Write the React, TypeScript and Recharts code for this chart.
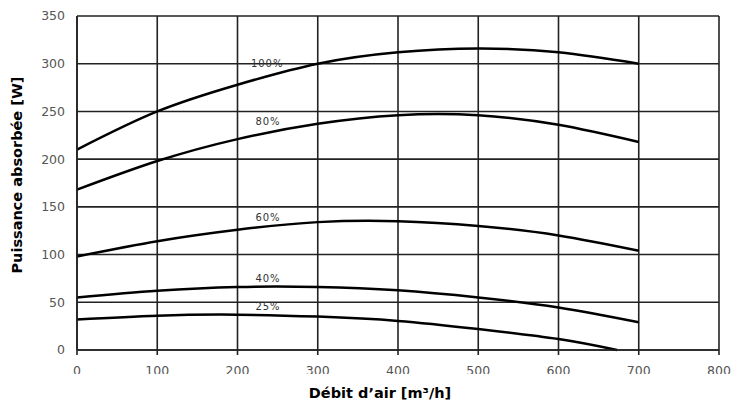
import React from 'react';
import { LineChart, Line, XAxis, YAxis, CartesianGrid, ReferenceDot, Label } from 'recharts';

// air flow points (m³/h)
const flow = [0, 100, 200, 300, 400, 500, 600, 700];
const flow25 = [0, 100, 200, 300, 400, 500, 600, 673];

const p100 = [210, 250, 278, 300, 312, 316, 312, 300];
const p80 = [168, 198, 221, 237, 246, 246, 236, 218];
const p60 = [98, 114, 126, 134, 135, 130, 120, 104];
const p40 = [55, 62, 66, 66, 62.5, 55, 44.5, 29];
const p25 = [32, 36, 37, 35, 30.5, 22, 11.5, 0];

const curveNames = ['100%', '80%', '60%', '40%', '25%'];
const labelX = [237, 238, 238, 238, 238];
const labelY = [300, 239, 139, 75, 46];

const xTicks = [0, 100, 200, 300, 400, 500, 600, 700, 800];
const yTicks = [0, 50, 100, 150, 200, 250, 300, 350];

const toSeries = (xs: number[], ys: number[]) => xs.map((x, i) => ({ x, y: ys[i] }));

const series = [
  toSeries(flow, p100),
  toSeries(flow, p80),
  toSeries(flow, p60),
  toSeries(flow, p40),
  toSeries(flow25, p25),
];

const font = 'DejaVu Sans, Verdana, sans-serif';
const tickStyle = { fontFamily: font, fontSize: 12.5, fill: '#555' };
const titleStyle = { fontFamily: font, fontSize: 14.5, fontWeight: 'bold', fill: '#000' };

// x tick labels are cut off at the bottom in the original: nested svg clips them
const renderXTick = (props: any) => {
  const { x, y, payload } = props;
  return (
    <svg key={`xt-${payload.value}`} x={x - 30} y={y} width={60} height={15} overflow="hidden">
      <text x={30} y={7} dy="0.71em" textAnchor="middle" {...tickStyle}>
        {payload.value}
      </text>
    </svg>
  );
};

const YTitle = (props: any) => {
  const { viewBox } = props;
  const x = viewBox.x + 22;
  const y = viewBox.y + viewBox.height / 2 - 8;
  return (
    <text x={x} y={y} transform={`rotate(-90, ${x}, ${y})`} textAnchor="middle" {...titleStyle}>
      Puissance absorbée [W]
    </text>
  );
};

export default function App() {
  return (
    <div style={{ position: 'absolute', left: 0, top: 0, width: 742, height: 405, background: '#fff' }}>
      <LineChart width={742} height={405} margin={{ top: 16, right: 23, bottom: 0, left: 0 }}>
        <CartesianGrid stroke="#222" strokeWidth={1.6} />
        <XAxis
          type="number"
          dataKey="x"
          domain={[0, 800]}
          ticks={xTicks}
          height={55}
          stroke="#222"
          strokeWidth={1.6}
          tickSize={5}
          tickMargin={4}
          tick={renderXTick}
          allowDuplicatedCategory={false}
        >
          <Label value="Débit d’air [m³/h]" position="insideBottom" offset={7} dx={-18} style={titleStyle} />
        </XAxis>
        <YAxis
          type="number"
          domain={[0, 350]}
          ticks={yTicks}
          width={77}
          stroke="#222"
          strokeWidth={1.6}
          tickLine={false}
          tickMargin={6}
          tick={tickStyle}
        >
          <Label content={<YTitle />} />
        </YAxis>
        {series.map((d, i) => (
          <Line
            key={curveNames[i]}
            data={d}
            dataKey="y"
            type="natural"
            stroke="#000"
            strokeWidth={2.5}
            dot={false}
            isAnimationActive={false}
          />
        ))}
        {curveNames.map((n, i) => (
          <ReferenceDot
            key={n}
            x={labelX[i]}
            y={labelY[i]}
            r={0}
            fill="none"
            stroke="none"
            label={{ value: n, position: 'center', style: { fontFamily: font, fontSize: 10, letterSpacing: 1, fill: '#333' } }}
          />
        ))}
      </LineChart>
    </div>
  );
}
